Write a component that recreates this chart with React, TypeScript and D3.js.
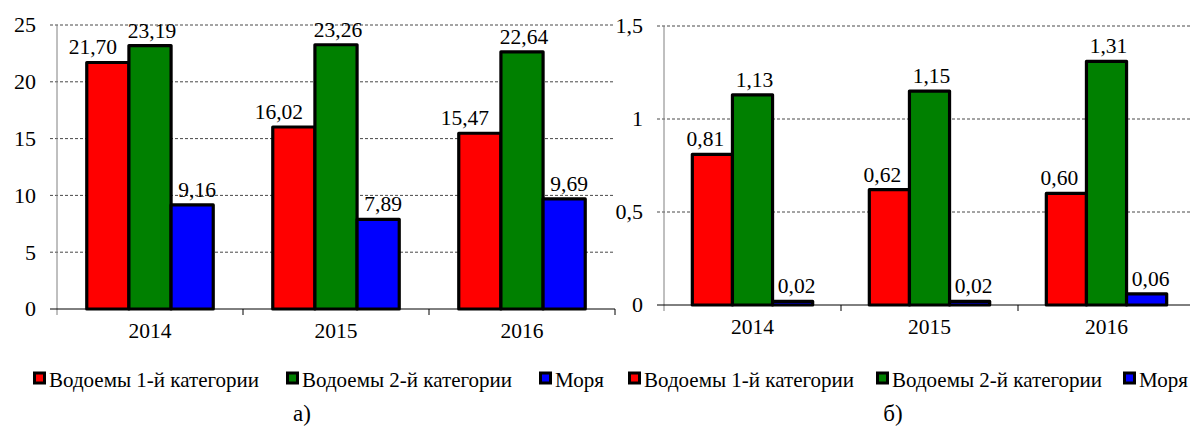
import React from "react";
import * as d3 from "d3";

const years = ["2014", "2015", "2016"];
const seriesNames = ["Водоемы 1-й категории", "Водоемы 2-й категории", "Моря"];
const seriesColors = ["#ff0000", "#008000", "#0000ff"];

const aCat1 = [21.7, 16.02, 15.47];
const aCat2 = [23.19, 23.26, 22.64];
const aSea = [9.16, 7.89, 9.69];
const aTicks = [0, 5, 10, 15, 20, 25];

const bCat1 = [0.81, 0.62, 0.6];
const bCat2 = [1.13, 1.15, 1.31];
const bSea = [0.02, 0.02, 0.06];
const bTicks = [0, 0.5, 1, 1.5];

const FONT = '"Liberation Serif", "Times New Roman", Times, serif';
const fmtVal = (v: number) => d3.format(".2f")(v).replace(".", ",");
const fmtTick = (v: number) => String(v).replace(".", ",");

type ChartProps = {
  series: number[][];
  ticks: number[];
  yMax: number;
  x0: number;
  x1: number;
  yTop: number;
  yBottom: number;
  labelDx: number[];
};

const txt = (size: number): React.CSSProperties => ({ fontFamily: FONT, fontSize: size + "px" });

function Chart({ series, ticks, yMax, x0, x1, yTop, yBottom, labelDx }: ChartProps) {
  const x = d3.scaleBand<string>().domain(years).range([x0, x1]).paddingInner(0.32).paddingOuter(0.16);
  const xs = d3
    .scaleBand<number>()
    .domain(series.map((_, i) => i))
    .range([0, x.bandwidth()]);
  const y = d3.scaleLinear().domain([0, yMax]).range([yBottom, yTop]);
  const step = x.step();
  return (
    <g>
      {ticks
        .filter((t) => t > 0)
        .map((t) => (
          <line
            key={"g" + t}
            x1={x0 - 7}
            x2={x1}
            y1={y(t)}
            y2={y(t)}
            stroke="#333"
            strokeWidth={0.9}
            strokeDasharray="3,2"
          />
        ))}
      {ticks.map((t) => (
        <text key={"t" + t} x={x0 - 21} y={y(t)} dy="0.34em" textAnchor="end" style={txt(22)}>
          {fmtTick(t)}
        </text>
      ))}
      <line x1={x0} x2={x0} y1={yTop} y2={yBottom + 6} stroke="#808080" strokeWidth={1} />
      {years.map((yr, i) => (
        <line
          key={"xt" + yr}
          x1={x0 + (i + 1) * step}
          x2={x0 + (i + 1) * step}
          y1={yBottom}
          y2={yBottom + 6}
          stroke="#000"
          strokeWidth={1}
        />
      ))}
      {years.map((yr, i) =>
        series.map((s, k) => {
          const bx = (x(yr) as number) + (xs(k) as number);
          const by = y(s[i]);
          return (
            <rect
              key={"b" + yr + k}
              x={bx}
              y={by}
              width={xs.bandwidth()}
              height={yBottom - by}
              fill={seriesColors[k]}
              stroke="#000"
              strokeWidth={3.2}
              strokeLinejoin="round"
            />
          );
        })
      )}
      <line x1={x0 - 7} x2={x1} y1={yBottom} y2={yBottom} stroke="#000" strokeWidth={1} />
      {years.map((yr, i) =>
        series.map((s, k) => {
          const bx = (x(yr) as number) + (xs(k) as number) + xs.bandwidth() / 2;
          return (
            <text key={"v" + yr + k} x={bx + labelDx[k]} y={y(s[i]) - 8} textAnchor="middle" style={txt(21.5)}>
              {fmtVal(s[i])}
            </text>
          );
        })
      )}
      {years.map((yr) => (
        <text
          key={"xl" + yr}
          x={(x(yr) as number) + x.bandwidth() / 2}
          y={yBottom + 29}
          textAnchor="middle"
          style={txt(21.5)}
        >
          {yr}
        </text>
      ))}
    </g>
  );
}

function Legend({ xs, y }: { xs: number[]; y: number }) {
  return (
    <g>
      {seriesNames.map((n, k) => (
        <g key={n}>
          <rect x={xs[k] + 1.5} y={y - 14} width={10} height={10} fill={seriesColors[k]} stroke="#000" strokeWidth={3} />
          <text x={xs[k] + 16} y={y} style={txt(21)}>
            {n}
          </text>
        </g>
      ))}
    </g>
  );
}

export default function App() {
  return (
    <svg width={1190} height={433} style={{ position: "absolute", left: 0, top: 0, background: "#fff" }}>
      <Chart
        series={[aCat1, aCat2, aSea]}
        ticks={aTicks}
        yMax={25}
        x0={57}
        x1={615}
        yTop={25}
        yBottom={309}
        labelDx={[-15, 2, 5]}
      />
      <Chart
        series={[bCat1, bCat2, bSea]}
        ticks={bTicks}
        yMax={1.5}
        x0={664}
        x1={1195}
        yTop={26}
        yBottom={305}
        labelDx={[-7, 2, 4]}
      />
      <Legend xs={[33, 286, 539]} y={387} />
      <Legend xs={[628, 876, 1123]} y={387} />
      <text x={302} y={421} textAnchor="middle" style={txt(23)}>
        а)
      </text>
      <text x={893} y={421} textAnchor="middle" style={txt(23)}>
        б)
      </text>
    </svg>
  );
}
